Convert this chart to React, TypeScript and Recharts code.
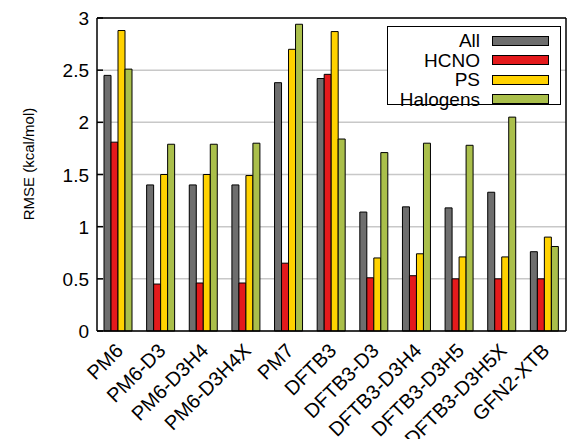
import { BarChart, Bar, XAxis, YAxis, CartesianGrid, Legend, ReferenceLine } from "recharts"

const methods = [
  "PM6", "PM6-D3", "PM6-D3H4", "PM6-D3H4X", "PM7", "DFTB3",
  "DFTB3-D3", "DFTB3-D3H4", "DFTB3-D3H5", "DFTB3-D3H5X", "GFN2-XTB",
]
const allErr = [2.45, 1.40, 1.40, 1.40, 2.38, 2.42, 1.14, 1.19, 1.18, 1.33, 0.76]
const hcnoErr = [1.81, 0.45, 0.46, 0.46, 0.65, 2.46, 0.51, 0.53, 0.50, 0.50, 0.50]
const psErr = [2.88, 1.50, 1.50, 1.49, 2.70, 2.87, 0.70, 0.74, 0.71, 0.71, 0.90]
const halErr = [2.51, 1.79, 1.79, 1.80, 2.94, 1.84, 1.71, 1.80, 1.78, 2.05, 0.81]
const yTicks = [0, 0.5, 1, 1.5, 2, 2.5, 3]
const yTitle = "RMSE (kcal/mol)"

const series = [
  { key: "all", name: "All", color: "#6e6e6e" },
  { key: "hcno", name: "HCNO", color: "#e41a1c" },
  { key: "ps", name: "PS", color: "#ffd200" },
  { key: "hal", name: "Halogens", color: "#aabf4b" },
]

const data = methods.map((m, i) => ({
  method: m,
  all: allErr[i],
  hcno: hcnoErr[i],
  ps: psErr[i],
  hal: halErr[i],
}))

const font = "'Liberation Sans', Arial, sans-serif"

function LeftTick({ x, y, payload }: any) {
  return (
    <g>
      <line x1={x + 8} x2={x + 14} y1={y} y2={y} stroke="#000" strokeWidth={1.5} />
      <text x={x} y={y} dy={7} textAnchor="end" fill="#000" style={{ fontSize: 19, fontFamily: font }}>
        {payload.value}
      </text>
    </g>
  )
}

function RightTick({ x, y }: any) {
  return <line x1={x - 8} x2={x - 14} y1={y} y2={y} stroke="#000" strokeWidth={1.5} />
}

function XTick({ x, y, payload }: any) {
  return (
    <g transform={`translate(${x + 6},${y + 13}) rotate(-45)`}>
      <text x={0} y={0} textAnchor="end" fill="#000" style={{ fontSize: 20, fontFamily: font }}>
        {payload.value}
      </text>
    </g>
  )
}

function LegendBox() {
  return (
    <div style={{ width: 174, height: 79, border: "1.5px solid #000", background: "#fff", boxSizing: "border-box", paddingTop: 4, fontFamily: font }}>
      {series.map((s) => (
        <div key={s.key} style={{ display: "flex", alignItems: "center", justifyContent: "flex-end", height: 19.5, paddingRight: 11 }}>
          <span style={{ fontSize: 19, lineHeight: "19px", color: "#000", marginRight: 12 }}>{s.name}</span>
          <span style={{ display: "inline-block", width: 55, height: 8, background: s.color, border: "1px solid #000" }} />
        </div>
      ))}
    </div>
  )
}

export default function App() {
  return (
    <div style={{ position: "absolute", left: 0, top: 0, width: 568, height: 439, background: "#fff" }}>
      <BarChart
        width={568}
        height={439}
        data={data}
        margin={{ top: 18, right: 0, bottom: 0, left: 0 }}
        barSize={7}
        barGap={0}
      >
        <CartesianGrid vertical={false} stroke="#c8c8c8" strokeWidth={1.5} />
        <XAxis
          dataKey="method"
          interval={0}
          height={108}
          tickLine={false}
          axisLine={{ stroke: "#000", strokeWidth: 1.5 }}
          tick={<XTick />}
        />
        <YAxis
          width={97}
          domain={[0, 3]}
          ticks={yTicks}
          tickLine={false}
          axisLine={{ stroke: "#000", strokeWidth: 1.5 }}
          tick={<LeftTick />}
        />
        <YAxis
          yAxisId="right"
          orientation="right"
          width={2}
          domain={[0, 3]}
          ticks={yTicks}
          tickLine={false}
          axisLine={{ stroke: "#000", strokeWidth: 1.5 }}
          tick={<RightTick />}
        />
        <ReferenceLine y={3} stroke="#000" strokeWidth={1.5} />
        <Legend
          layout="vertical"
          align="center"
          verticalAlign="middle"
          content={<LegendBox />}
          wrapperStyle={{ top: 26, left: 387, width: 174 }}
        />
        {series.map((s) => (
          <Bar
            key={s.key}
            dataKey={s.key}
            name={s.name}
            fill={s.color}
            stroke="#000"
            strokeWidth={1}
            isAnimationActive={false}
          />
        ))}
      </BarChart>
      <div
        style={{
          position: "absolute",
          left: 28,
          top: 164,
          transform: "translate(-50%, -50%) rotate(-90deg)",
          whiteSpace: "nowrap",
          fontFamily: font,
          fontSize: 15,
          color: "#000",
        }}
      >
        {yTitle}
      </div>
    </div>
  )
}
